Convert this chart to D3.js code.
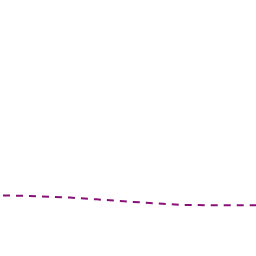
<!DOCTYPE html>
<html><head><meta charset="utf-8">
<script src="https://cdn.jsdelivr.net/npm/d3@7"></script>
<style>html,body{margin:0;padding:0;background:#fff;}svg{display:block;}</style>
</head><body>
<script>
const xValues = [0, 1, 2, 3, 4, 5, 6, 7];
const yValues = [23.75, 23.44, 22.81, 21.76, 20.70, 19.92, 19.80, 19.80];

const W = 256, H = 256;
const svg = d3.select("body").append("svg").attr("width", W).attr("height", H);
const x = d3.scaleLinear().domain([0, 7]).range([-10, 270]);
const y = d3.scaleLinear().domain([0, 100]).range([256, 0]);
const data = xValues.map((v, i) => ({x: v, y: yValues[i]}));
const line = d3.line().x(d => x(d.x)).y(d => y(d.y)).curve(d3.curveMonotoneX);
svg.append("path").datum(data)
  .attr("d", line)
  .attr("fill", "none")
  .attr("stroke", "#881177")
  .attr("stroke-width", 2)
  .attr("stroke-dasharray", "7,6")
  .attr("stroke-dashoffset", 0);
</script>
</body></html>
